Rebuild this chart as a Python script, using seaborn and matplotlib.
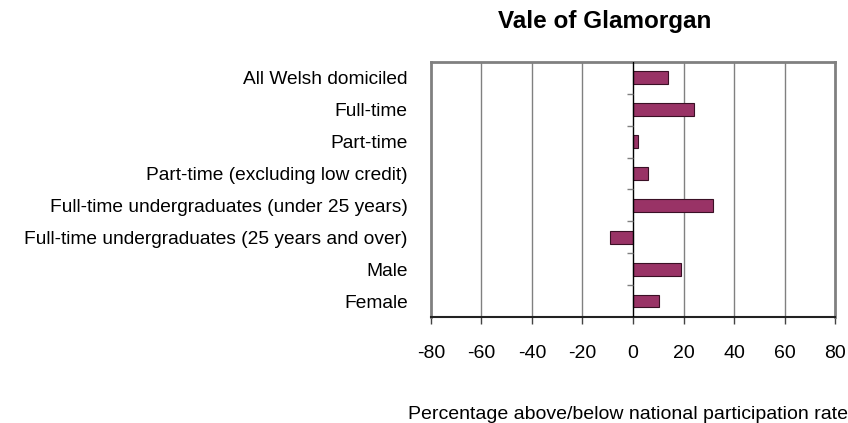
import numpy as np
import matplotlib
matplotlib.use("Agg")
import matplotlib.pyplot as plt
import seaborn as sns

# =========================
# DATA
# =========================
categories = [
    "All Welsh domiciled",
    "Full-time",
    "Part-time",
    "Part-time (excluding low credit)",
    "Full-time undergraduates (under 25 years)",
    "Full-time undergraduates (25 years and over)",
    "Male",
    "Female",
]
values = [13.9, 24.3, 2.0, 6.1, 31.5, -9.0, 18.9, 10.4]
xticks = [-80, -60, -40, -20, 0, 20, 40, 60, 80]

sns.set_style("white")
plt.rcParams["font.family"] = ["Liberation Sans", "DejaVu Sans"]
plt.rcParams["text.color"] = "black"
plt.rcParams["axes.labelcolor"] = "black"

fig = plt.figure(figsize=(8.48, 4.23), dpi=100)
ax = fig.add_axes([0.508, 0.2506, 0.477, 0.603])

sns.barplot(x=values, y=categories, orient="h", color="#993366",
            width=0.4, edgecolor="#3a1025", linewidth=0.8,
            saturation=1, ax=ax, zorder=3)

ax.set_xlim(xticks[0], xticks[-1])
ax.set_xticks(xticks)
ax.set_xticklabels([str(t) for t in xticks])
ax.set_ylim(len(categories) - 0.5, -0.5)

# gridlines
for t in xticks[1:-1]:
    if t != 0:
        ax.axvline(t, color="#808080", lw=1, zorder=1)
ax.axvline(0, color="black", lw=1, zorder=4)
# category boundary ticks on the zero line
ax.hlines(np.arange(0.5, len(categories) - 1), -2.4, 0,
          color="#808080", lw=1, zorder=4)

for side in ["left", "top", "right"]:
    ax.spines[side].set_color("#808080")
    ax.spines[side].set_linewidth(2)
ax.spines["bottom"].set_color("#222222")
ax.spines["bottom"].set_linewidth(1.5)

ax.tick_params(axis="y", length=0, pad=16.5, labelsize=13.8, colors="black")
ax.tick_params(axis="x", bottom=True, length=5, width=1, color="#444444",
               pad=15.5, labelsize=14, labelcolor="black")

ax.set_ylabel("")
ax.set_xlabel("Percentage above/below national participation rate",
              fontsize=14, va="top", color="black")
ax.xaxis.set_label_coords(0.488, -0.35)

fig.text(0.713, 0.95, "Vale of Glamorgan", ha="center", va="center",
         fontsize=17.5, fontweight="bold", color="black")

fig.savefig("out.png", dpi=100)
plt.close(fig)
